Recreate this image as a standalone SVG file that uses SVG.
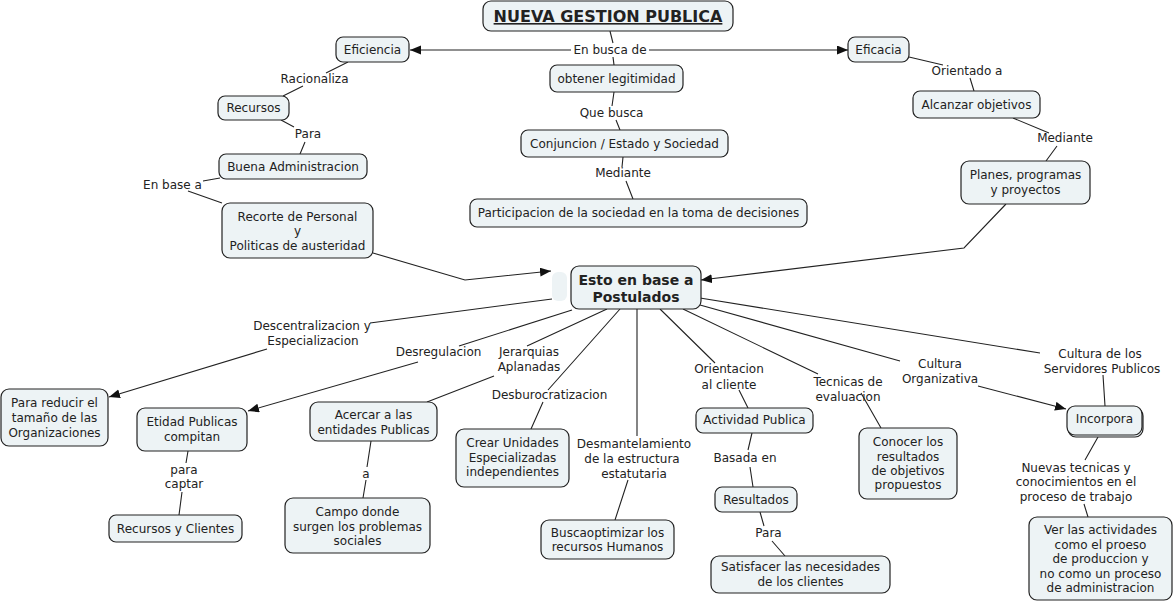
<svg xmlns="http://www.w3.org/2000/svg" width="1174" height="603" viewBox="0 0 1174 603">
<style>
.n{fill:#edf3f5;stroke:#222;stroke-width:1.2}
.g{fill:#edf3f5;stroke:none}
text{font-family:"DejaVu Sans",Verdana,"Liberation Sans",sans-serif;font-size:12px;fill:#222;text-anchor:middle}
.b{font-weight:bold;font-size:14px}
.h{font-weight:bold;font-size:16px;text-decoration:underline}
.l{fill:none;stroke:#222;stroke-width:1.1}
.a{marker-end:url(#arr)}
</style>
<defs>
<marker id="arr" markerUnits="userSpaceOnUse" markerWidth="12" markerHeight="10" refX="11" refY="4.5" orient="auto">
<path d="M0,0 L11,4.5 L0,9 z" fill="#111"/>
</marker>
</defs>
<rect width="1174" height="603" fill="#fff"/>
<g id="connectors">
<path class="l" d="M610,31 L613,43"/>
<path class="l a" d="M571,50 L410,50"/>
<path class="l a" d="M649,50 L848,50"/>
<path class="l" d="M613,57 L614,65"/>
<path class="l" d="M614,92 L612,106 M616,120 L620,130"/>
<path class="l" d="M623,157 L622,167 M626,181 L633,199"/>
<path class="l" d="M348,62 L326,73 M303,86 L283,96"/>
<path class="l" d="M281,120 L294,127 M305,142 L300,154"/>
<path class="l" d="M220,178 L203,181 M188,191 L222,203"/>
<polyline class="l a" points="373,253 465,280 551,271"/>
<polyline class="l a" points="1006,204 964,248 701,280"/>
<path class="l" d="M909,57 L943,65 M970,78 L974,91"/>
<path class="l" d="M1013,118 L1049,133 M1057,146 L1046,161"/>
<path class="l" d="M552,299 L370,323"/>
<path class="l a" d="M267,349 L109,397"/>
<path class="l" d="M572,310 L459,346"/>
<path class="l a" d="M418,362 L248,411"/>
<path class="l" d="M607,309 L527,346 M494,376 L427,402"/>
<path class="l" d="M620,309 L548,390 M543,402 L531,429"/>
<path class="l" d="M637,309 L637,436 M628,480 L615,520"/>
<path class="l" d="M660,309 L715,363 M739,390 L748,408"/>
<path class="l" d="M752,433 L748,450 M750,467 L753,487"/>
<path class="l" d="M760,512 L764,526 M772,541 L785,556"/>
<path class="l" d="M683,309 L818,374 M861,393 L881,428"/>
<path class="l" d="M700,305 L900,361"/>
<path class="l a" d="M978,386 L1066,409"/>
<path class="l" d="M700,298 L1040,353 M1103,375 L1105,406"/>
<path class="l" d="M1098,437 L1085,460 M1084,504 L1088,517"/>
<path class="l" d="M188,451 L186,463 M182,492 L179,515"/>
<path class="l" d="M371,441 L367,467 M366,480 L363,498"/>
</g>
<g id="labels">
<text x="610" y="54">En busca de</text>
<text x="314.5" y="83">Racionaliza</text>
<text x="308" y="138">Para</text>
<text x="172.5" y="189">En base a</text>
<text x="611.5" y="117">Que busca</text>
<text x="623" y="177">Mediante</text>
<text x="967" y="75">Orientado a</text>
<text x="1065" y="142">Mediante</text>
<text x="312" y="330">Descentralizacion y</text>
<text x="313" y="345">Especializacion</text>
<text x="438.5" y="356">Desregulacion</text>
<text x="529" y="356">Jerarquias</text>
<text x="529" y="371">Aplanadas</text>
<text x="549.5" y="399">Desburocratizacion</text>
<text x="634" y="448">Desmantelamiento</text>
<text x="632" y="463">de la estructura</text>
<text x="634" y="478">estatutaria</text>
<text x="729" y="373">Orientacion</text>
<text x="729" y="389">al cliente</text>
<text x="745" y="462">Basada en</text>
<text x="768.5" y="537">Para</text>
<text x="848" y="386">Tecnicas de</text>
<text x="848" y="401">evaluacion</text>
<text x="940" y="368">Cultura</text>
<text x="940" y="383">Organizativa</text>
<text x="1100" y="358">Cultura de los</text>
<text x="1102" y="373">Servidores Publicos</text>
<text x="1076" y="472">Nuevas tecnicas y</text>
<text x="1076" y="486">conocimientos en el</text>
<text x="1076" y="501">proceso de trabajo</text>
<text x="184" y="474">para</text>
<text x="184" y="488">captar</text>
<text x="366" y="478">a</text>
</g>
<g id="n-title"><rect class="n" x="483" y="1" width="250" height="30" rx="8"/><text class="h" x="608" y="22">NUEVA GESTION PUBLICA</text></g>
<g id="n-eficiencia"><rect class="n" x="336" y="37" width="73" height="25" rx="7"/><text x="372.5" y="54">Eficiencia</text></g>
<g id="n-eficacia"><rect class="n" x="848" y="37" width="61" height="25" rx="7"/><text x="878.5" y="54">Eficacia</text></g>
<g id="n-legitimidad"><rect class="n" x="550" y="65" width="133" height="27" rx="7"/><text x="616.5" y="83">obtener legitimidad</text></g>
<g id="n-conjuncion"><rect class="n" x="521" y="130" width="207" height="27" rx="7"/><text x="624.5" y="148">Conjuncion / Estado y Sociedad</text></g>
<g id="n-participacion"><rect class="n" x="470" y="199" width="337" height="28" rx="7"/><text x="638.5" y="217">Participacion de la sociedad en la toma de decisiones</text></g>
<g id="n-recursos"><rect class="n" x="218" y="96" width="71" height="24" rx="7"/><text x="253.5" y="112">Recursos</text></g>
<g id="n-buena"><rect class="n" x="219" y="154" width="148" height="25" rx="7"/><text x="293" y="171">Buena Administracion</text></g>
<g id="n-recorte"><rect class="n" x="222" y="203" width="151" height="55" rx="8"/><text x="297.5" y="221">Recorte de Personal</text><text x="297.5" y="235">y</text><text x="297.5" y="250">Politicas de austeridad</text></g>
<g id="n-alcanzar"><rect class="n" x="913" y="91" width="127" height="27" rx="7"/><text x="976.5" y="109">Alcanzar objetivos</text></g>
<g id="n-planes"><rect class="n" x="961" y="161" width="129" height="43" rx="8"/><text x="1025.5" y="179">Planes, programas</text><text x="1025.5" y="194">y proyectos</text></g>
<g id="n-ghost"><rect class="g" x="552" y="272" width="15" height="29" rx="6"/></g>
<g id="n-esto"><rect class="n" x="571" y="266" width="130" height="43" rx="8"/><text class="b" x="636" y="285">Esto en base a</text><text class="b" x="636" y="302">Postulados</text></g>
<g id="n-reducir"><rect class="n" x="1" y="389" width="107" height="57" rx="8"/><text x="54.5" y="407">Para reducir el</text><text x="54.5" y="422">tamaño de las</text><text x="54.5" y="437">Organizaciones</text></g>
<g id="n-etidad"><rect class="n" x="137" y="408" width="110" height="43" rx="8"/><text x="192" y="426">Etidad Publicas</text><text x="192" y="441">compitan</text></g>
<g id="n-recclientes"><rect class="n" x="109" y="515" width="133" height="27" rx="7"/><text x="175.5" y="533">Recursos y Clientes</text></g>
<g id="n-acercar"><rect class="n" x="310" y="402" width="127" height="39" rx="8"/><text x="373.5" y="419">Acercar a las</text><text x="373.5" y="434">entidades Publicas</text></g>
<g id="n-campo"><rect class="n" x="285" y="498" width="145" height="55" rx="8"/><text x="357.5" y="516">Campo donde</text><text x="357.5" y="531">surgen los problemas</text><text x="357.5" y="545">sociales</text></g>
<g id="n-crear"><rect class="n" x="456" y="429" width="113" height="58" rx="8"/><text x="512.5" y="447">Crear Unidades</text><text x="512.5" y="462">Especializadas</text><text x="512.5" y="476">independientes</text></g>
<g id="n-busca"><rect class="n" x="541" y="520" width="133" height="39" rx="8"/><text x="607.5" y="537">Buscaoptimizar los</text><text x="607.5" y="551">recursos Humanos</text></g>
<g id="n-actividad"><rect class="n" x="696" y="408" width="117" height="25" rx="7"/><text x="754.5" y="424">Actividad Publica</text></g>
<g id="n-resultados"><rect class="n" x="715" y="487" width="82" height="25" rx="7"/><text x="756" y="504">Resultados</text></g>
<g id="n-satisfacer"><rect class="n" x="711" y="556" width="179" height="37" rx="8"/><text x="800.5" y="571">Satisfacer las necesidades</text><text x="800.5" y="586">de los clientes</text></g>
<g id="n-conocer"><rect class="n" x="859" y="428" width="98" height="71" rx="8"/><text x="908" y="446">Conocer los</text><text x="908" y="461">resultados</text><text x="908" y="475">de objetivos</text><text x="908" y="489">propuestos</text></g>
<g id="n-incorpora"><rect class="n" x="1068" y="408" width="75" height="29" rx="8"/><rect class="n" x="1067" y="406" width="75" height="29" rx="8"/><text x="1104.5" y="423">Incorpora</text></g>
<g id="n-ver"><rect class="n" x="1029" y="517" width="143" height="83" rx="8"/><text x="1100.5" y="534">Ver las actividades</text><text x="1100.5" y="549">como el proeso</text><text x="1100.5" y="563">de produccion y</text><text x="1100.5" y="578">no como un proceso</text><text x="1100.5" y="592">de administracion</text></g>
</svg>
